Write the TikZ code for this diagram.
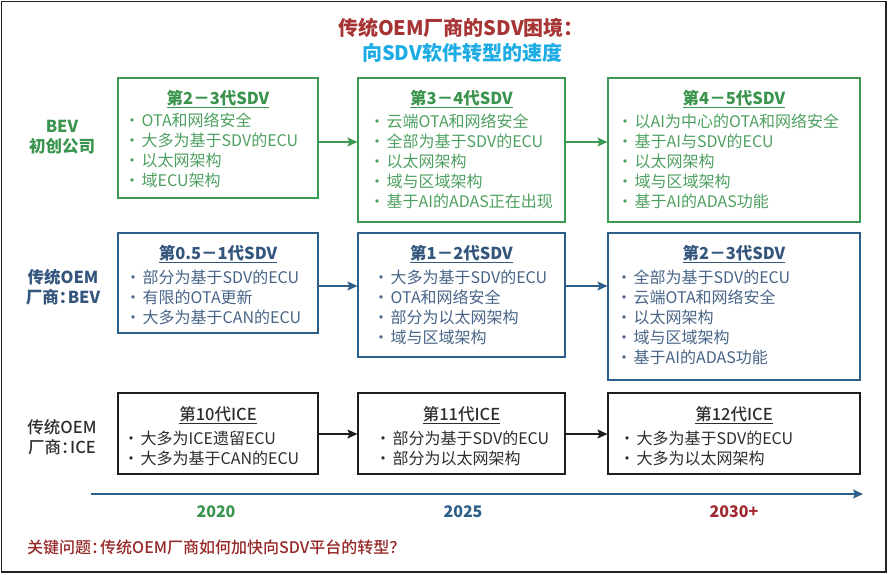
\documentclass[tikz,border=0pt]{standalone}
\usepackage{fontspec}
\setmainfont{Noto Sans CJK SC}
\newfontfamily\medfont{Noto Sans CJK SC Medium}
\usetikzlibrary{arrows.meta,calc}
\definecolor{frame}{RGB}{34,34,34}
\definecolor{gline}{RGB}{60,155,82}
\definecolor{gtext}{RGB}{78,160,96}
\definecolor{gtitle}{RGB}{58,148,78}
\definecolor{bline}{RGB}{44,94,138}
\definecolor{btext}{RGB}{72,100,135}
\definecolor{btitle}{RGB}{52,86,125}
\definecolor{kline}{RGB}{30,30,30}
\definecolor{ktext}{RGB}{45,45,45}
\definecolor{tred}{RGB}{166,52,52}
\definecolor{tblue}{RGB}{30,172,228}
\definecolor{yred}{RGB}{160,40,48}
\definecolor{qred}{RGB}{150,40,40}
\newcommand\bul{\makebox[0pt][c]{·}\hspace{9.5pt}}
\newcommand\hcolon{\makebox[9pt][l]{：}}
\newcommand\itemlist[1]{\fontsize{16}{20}\selectfont\begin{tabular}[t]{@{}l@{}}#1\end{tabular}}
\tikzset{
  gbox/.style={draw=gline, line width=1.1pt, inner sep=0pt},
  bbox/.style={draw=bline, line width=1.1pt, inner sep=0pt},
  kbox/.style={draw=kline, line width=1.1pt, inner sep=0pt},
  boxtitle/.style={anchor=base, inner sep=0pt, font=\fontsize{16.5}{20}\selectfont\bfseries},
  items/.style={anchor=base west, inner sep=0pt},
  rowlabel/.style={align=center, inner sep=0pt, font=\fontsize{16.5}{20}\selectfont\bfseries},
  year/.style={anchor=base, inner sep=0pt, font=\fontsize{16}{20}\selectfont\bfseries},
  conn/.style={line width=1.1pt, -{Stealth[length=10pt,width=9pt,inset=2pt]}},
}
\begin{document}
\begin{tikzpicture}[x=1pt,y=-1pt]
\useasboundingbox (0,0) rectangle (889,574);
\draw[frame, line width=1.6pt] (1.5,1.5) rectangle (886,572);

% title
\node[anchor=base, inner sep=0pt, text=tred, font=\fontsize{20}{25}\selectfont\bfseries] (t1) at (461,35) {传统OEM厂商的SDV困境：};
\node[anchor=base, inner sep=0pt, text=tblue, font=\fontsize{20}{25}\selectfont\bfseries] (t2) at (462,60) {向SDV软件转型的速度};

% row labels
\node[rowlabel, text=gtitle] (L1) at (62,137) {BEV\\初创公司};
\node[rowlabel, text=btitle] (L2) at (63,287) {传统OEM\\厂商\hcolon BEV};
\node[rowlabel, text=ktext, font=\fontsize{16.5}{20}\selectfont\medfont] (L3) at (62,437) {传统OEM\\厂商\hcolon ICE};

% row 1 boxes
\node[gbox, minimum width=200pt, minimum height=120pt] (A) at (218,138) {};
\node[gbox, minimum width=207pt, minimum height=144pt] (B) at (461.5,150) {};
\node[gbox, minimum width=252pt, minimum height=144pt] (C) at (734,150) {};
\node[boxtitle, text=gtitle] (At) at (218,104) {\underline{第2－3代SDV}};
\node[boxtitle, text=gtitle] (Bt) at (461.5,104) {\underline{第3－4代SDV}};
\node[boxtitle, text=gtitle] (Ct) at (734,104) {\underline{第4－5代SDV}};
\node[items, text=gtext] (Ai) at (132,126.5) {\itemlist{\bul OTA和网络安全\\ \bul 大多为基于SDV的ECU\\ \bul 以太网架构\\ \bul 域ECU架构}};
\node[items, text=gtext] (Bi) at (377,127) {\itemlist{\bul 云端OTA和网络安全\\ \bul 全部为基于SDV的ECU\\ \bul 以太网架构\\ \bul 域与区域架构\\ \bul 基于AI的ADAS正在出现}};
\node[items, text=gtext] (Ci) at (625,127) {\itemlist{\bul 以AI为中心的OTA和网络安全\\ \bul 基于AI与SDV的ECU\\ \bul 以太网架构\\ \bul 域与区域架构\\ \bul 基于AI的ADAS功能}};

% row 2 boxes
\node[bbox, minimum width=200pt, minimum height=100pt] (D) at (218,283) {};
\node[bbox, minimum width=207pt, minimum height=124pt] (E) at (461.5,295) {};
\node[bbox, minimum width=252pt, minimum height=147pt] (F) at (734,306.5) {};
\node[boxtitle, text=btitle] (Dt) at (218,259) {\underline{第0.5－1代SDV}};
\node[boxtitle, text=btitle] (Et) at (461.5,259) {\underline{第1－2代SDV}};
\node[boxtitle, text=btitle] (Ft) at (734,259) {\underline{第2－3代SDV}};
\node[items, text=btext] (Di) at (133,283) {\itemlist{\bul 部分为基于SDV的ECU\\ \bul 有限的OTA更新\\ \bul 大多为基于CAN的ECU}};
\node[items, text=btext] (Ei) at (381,283) {\itemlist{\bul 大多为基于SDV的ECU\\ \bul OTA和网络安全\\ \bul 部分为以太网架构\\ \bul 域与区域架构}};
\node[items, text=btext] (Fi) at (624,283) {\itemlist{\bul 全部为基于SDV的ECU\\ \bul 云端OTA和网络安全\\ \bul 以太网架构\\ \bul 域与区域架构\\ \bul 基于AI的ADAS功能}};

% row 3 boxes
\node[kbox, minimum width=200pt, minimum height=81pt] (G) at (218,433.5) {};
\node[kbox, minimum width=207pt, minimum height=81pt] (H) at (461.5,433.5) {};
\node[kbox, minimum width=252pt, minimum height=81pt] (I) at (734,433.5) {};
\node[boxtitle, text=ktext, font=\fontsize{16.5}{20}\selectfont\medfont] (Gt) at (218,420) {\underline{第10代ICE}};
\node[boxtitle, text=ktext, font=\fontsize{16.5}{20}\selectfont\medfont] (Ht) at (461.5,420) {\underline{第11代ICE}};
\node[boxtitle, text=ktext, font=\fontsize{16.5}{20}\selectfont\medfont] (It) at (734,420) {\underline{第12代ICE}};
\node[items, text=ktext] (Gi) at (131,444) {\itemlist{\bul 大多为ICE遗留ECU\\ \bul 大多为基于CAN的ECU}};
\node[items, text=ktext] (Hi) at (383,444) {\itemlist{\bul 部分为基于SDV的ECU\\ \bul 部分为以太网架构}};
\node[items, text=ktext] (Ii) at (627,444) {\itemlist{\bul 大多为基于SDV的ECU\\ \bul 大多为以太网架构}};

% connectors
\coordinate (r1) at (0,142);
\coordinate (r2) at (0,286);
\coordinate (r3) at (0,434);
\draw[conn, gline] (A.east |- r1) -- (B.west |- r1);
\draw[conn, gline] (B.east |- r1) -- (C.west |- r1);
\draw[conn, bline] (D.east |- r2) -- (E.west |- r2);
\draw[conn, bline] (E.east |- r2) -- (F.west |- r2);
\draw[conn, kline] (G.east |- r3) -- (H.west |- r3);
\draw[conn, kline] (H.east |- r3) -- (I.west |- r3);

% timeline
\coordinate (ts) at (91,494);
\coordinate (te) at (863,494);
\draw[conn, bline, line width=1.3pt] (ts) -- (te);
\node[year, text=gtitle] (y1) at (216,517) {2020};
\node[year, text=bline] (y2) at (463,517) {2025};
\node[year, text=yred] (y3) at (734,517) {2030+};

% question
\node[anchor=base west, inner sep=0pt, text=qred, font=\fontsize{16}{20}\selectfont\medfont] (q) at (27,553) {关键问题\hcolon 传统OEM厂商如何加快向SDV平台的转型？};
\end{tikzpicture}
\end{document}
